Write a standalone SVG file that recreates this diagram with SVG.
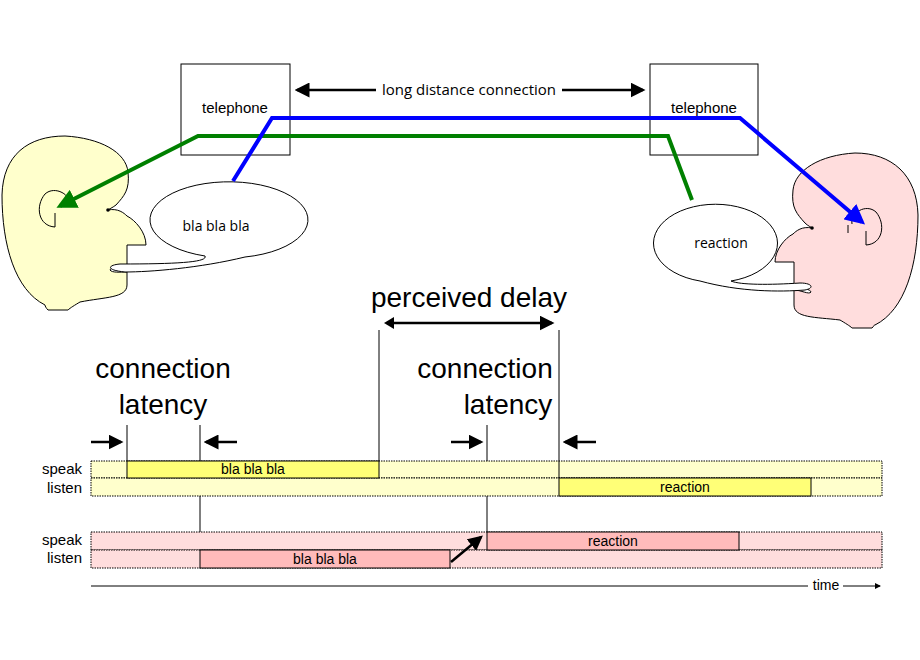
<svg xmlns="http://www.w3.org/2000/svg" width="920" height="660" viewBox="0 0 920 660">
<defs>
<marker id="ab" markerWidth="6" markerHeight="6" refX="5" refY="3" orient="auto" markerUnits="strokeWidth"><path d="M0,0 L6,3 L0,6 z" fill="#000"/></marker>
<marker id="ag" markerWidth="5" markerHeight="5" refX="4" refY="2.5" orient="auto" markerUnits="strokeWidth"><path d="M0,0 L5,2.5 L0,5 z" fill="#008000"/></marker>
<marker id="au" markerWidth="5" markerHeight="5" refX="4" refY="2.5" orient="auto" markerUnits="strokeWidth"><path d="M0,0 L5,2.5 L0,5 z" fill="#0000ff"/></marker>
<style>
text{font-family:"Open Sans","DejaVu Sans",sans-serif;fill:#000}
.big{font-family:"Liberation Sans",Arial,sans-serif;font-size:28px;text-anchor:middle}
.sm{font-size:14px;text-anchor:middle}
.tel{font-family:"Liberation Sans",Arial,sans-serif;font-size:15px;text-anchor:middle}
.lab{font-family:"Liberation Sans",Arial,sans-serif;font-size:15px;text-anchor:end}
.bar{font-family:"Liberation Sans Narrow","Liberation Sans",sans-serif;font-size:14px;text-anchor:middle}
.ln{stroke:#000;stroke-width:1;fill:none}
.arr{stroke:#000;stroke-width:2.5;fill:none;marker-end:url(#ab)}
.row{stroke:#000;stroke-width:1;stroke-dasharray:1.5,1}
</style>
</defs>
<g id="head-left">
<path d="M45,305 C15,290 2,245 2,195 C3,155 28,136 65,136 C100,138 126,152 128,172 C130,190 124,196 116,205 C112,208 109,209 108,210 C118,208 124,213 127,216 C135,220 146,232 146,245 L127,245 L127,266 C118,266 110,268 110,270 C112,273 120,272 127,272 L127,285 C127,298 105,297 80,302 C75,305 70,308 68,310 L48,310 C46,308 45,306 45,305 Z" fill="#ffffcc" stroke="#000"/>
<path d="M55,227 L55,213 M55,227 C38,226 35,206 45,194 C55,185 72,195 70,206" fill="none" stroke="#000"/>
<circle cx="108" cy="210" r="1.8" fill="#000"/>
</g>
<g id="head-right">
<path d="M875,325 C905,310 918,265 918,215 C917,175 892,153 855,153 C820,155 795,170 793,190 C791,208 797,214 805,223 C808,226 811,227 812,228 C802,226 796,231 793,234 C785,238 775,250 775,262 L794,262 L794,287 C803,287 811,290 811,292 C809,295 801,290 794,290 L794,305 C794,318 815,317 840,320 C845,323 850,326 852,328 L872,328 C874,326 875,324 875,325 Z" fill="#ffdddd" stroke="#000"/>
<path d="M866,245 L866,231 M866,245 C883,244 886,224 876,212 C866,203 850,213 852,224" fill="none" stroke="#000"/>
<path d="M848,233 L848,225" stroke="#000"/>
<circle cx="812" cy="228" r="1.8" fill="#000"/>
</g>
<g id="bubble-left">
<path d="M205,256 A79,38 0 1 1 245,257 C200,268 150,272 125,272 C105,270 108,265 120,264 C180,264 208,262 205,256 Z" fill="#fff" stroke="#000"/>
<text x="216" y="231" class="sm">bla bla bla</text>
</g>
<g id="bubble-right">
<path d="M731,281 A62,39 0 1 0 700,281 C740,292 780,292 805,290 C815,288 812,283 800,283 C770,285 740,285 731,281 Z" fill="#fff" stroke="#000"/>
<text x="721" y="248" class="sm">reaction</text>
</g>
<g id="telephone-left"><rect x="181" y="64" width="109" height="91" fill="#fff" stroke="#000"/><text x="235" y="113" class="tel">telephone</text></g>
<g id="telephone-right"><rect x="650" y="64" width="108" height="91" fill="#fff" stroke="#000"/><text x="704" y="113" class="tel">telephone</text></g>
<g id="connectors">
<path d="M692,200 L668,136 L198,136 L60,206" fill="none" stroke="#008000" stroke-width="4" marker-end="url(#ag)"/>
<path d="M233,181 L272,118 L740,118 L862,222" fill="none" stroke="#0000ff" stroke-width="4" marker-end="url(#au)"/>
<line x1="376" y1="90" x2="297" y2="90" class="arr"/>
<line x1="562" y1="90" x2="643" y2="90" class="arr"/>
<text x="469" y="95" class="sm" style="font-size:15px">long distance connection</text>
</g>
<g id="timeline">
<text x="469" y="307" class="big">perceived delay</text>
<text x="163" y="378" class="big">connection</text><text x="163" y="414" class="big">latency</text>
<text x="485" y="378" class="big">connection</text><text x="508" y="414" class="big">latency</text>
<line x1="387" y1="323" x2="552" y2="323" class="arr"/>
<path d="M384,323 l10,-6 v12 z" fill="#000"/>
<rect x="91" y="461" width="791" height="17" fill="#ffffcc" class="row"/>
<rect x="91" y="478" width="791" height="18" fill="#ffffcc" class="row"/>
<rect x="91" y="532" width="791" height="18" fill="#ffdddd" class="row"/>
<rect x="91" y="550" width="791" height="18" fill="#ffdddd" class="row"/>
<rect x="127" y="461" width="252" height="17" fill="#ffff77" stroke="#000"/><text x="253" y="474" class="bar">bla bla bla</text>
<rect x="559" y="478" width="252" height="18" fill="#ffff77" stroke="#000"/><text x="685" y="492" class="bar">reaction</text>
<rect x="487" y="532" width="252" height="18" fill="#ffbbbb" stroke="#000"/><text x="613" y="546" class="bar">reaction</text>
<rect x="200" y="550" width="250" height="18" fill="#ffbbbb" stroke="#000"/><text x="325" y="564" class="bar">bla bla bla</text>
<path d="M127,425 V461 M200,425 V461 M200,496 V532 M379,330 V461 M487,425 V461 M487,496 V532 M559,330 V478" class="ln"/>
<line x1="91" y1="442" x2="121" y2="442" class="arr"/>
<line x1="237" y1="442" x2="206" y2="442" class="arr"/>
<line x1="451" y1="442" x2="481" y2="442" class="arr"/>
<line x1="596" y1="442" x2="565" y2="442" class="arr"/>
<line x1="451" y1="562" x2="481" y2="537" class="arr"/>
<text x="82" y="474" class="lab">speak</text><text x="82" y="493" class="lab">listen</text>
<text x="82" y="545" class="lab">speak</text><text x="82" y="563" class="lab">listen</text>
<line x1="91" y1="586" x2="808" y2="586" class="ln"/>
<text x="826" y="590" class="bar">time</text>
<line x1="843" y1="586" x2="880" y2="586" class="ln" style="marker-end:url(#ab)" stroke-width="1.5"/>
</g>
</svg>
